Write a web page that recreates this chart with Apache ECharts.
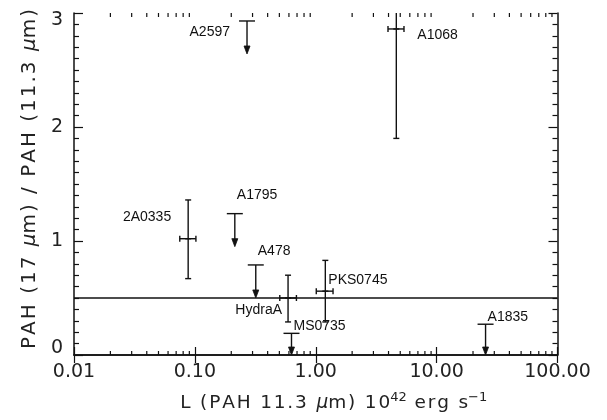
<!DOCTYPE html>
<html><head><meta charset="utf-8">
<script src="https://cdn.jsdelivr.net/npm/echarts@6/dist/echarts.min.js"></script>
<style>html,body{margin:0;padding:0;background:#fff}#c{width:607px;height:420px}</style>
</head><body><div id="c"></div>
<script>
// ---- data ----
const detNames   = ['A1068', '2A0335', 'HydraA', 'PKS0745'];
const detL       = [4.64, 0.088, 0.59, 1.20];
const detLlo     = [3.96, 0.075, 0.504, 1.01];
const detLhi     = [5.37, 0.102, 0.692, 1.39];
const detRatio   = [2.86, 1.02, 0.50, 0.56];
const detRatioLo = [1.90, 0.67, 0.29, 0.29];
const detRatioHi = [3.82, 1.36, 0.70, 0.83];

const limNames = ['A2597', 'A1795', 'A478', 'MS0735', 'A1835'];
const limL     = [0.27, 0.214, 0.319, 0.63, 25.4];
const limRatio = [2.93, 1.24, 0.79, 0.19, 0.27];

const meanRatio = 0.5;
const xTickValues = [0.01, 0.1, 1, 10, 100];
const yTickValues = [0, 1, 2, 3];

// ---- layout (label offsets in px, relative to the point) ----
const labelLayout = {
  'A1068':  {dx: 21, dy: 6,  align: 'left'},
  '2A0335': {dx: -17, dy: -22, align: 'right'},
  'HydraA': {dx: -6, dy: 12, align: 'right'},
  'PKS0745':{dx: 3, dy: -11, align: 'left'},
  'A2597':  {dx: -17, dy: 11, align: 'right'},
  'A1795':  {dx: 2, dy: -18, align: 'left'},
  'A478':   {dx: 2, dy: -14, align: 'left'},
  'MS0735': {dx: 2, dy: -7, align: 'left'},
  'A1835':  {dx: 2, dy: -7, align: 'left'}
};

// minor tick positions for log axis (2..9 x 10^k)
const minorLog = [];
for (let k = -2; k < 2; k++) for (let m = 2; m <= 9; m++) minorLog.push([m * Math.pow(10, k), 0]);

const INK = '#111';
const LW = 1.4;
const lblFont = '14px "Liberation Sans", Arial, sans-serif';
const axisFont = '"DejaVu Sans", sans-serif';
// wide tracking like the original plotting font (hair spaces between letters)
const tr = s => s.split('').join('\u200A');

function ln(x1, y1, x2, y2) {
  return {type: 'line', shape: {x1, y1, x2, y2}, style: {stroke: INK, lineWidth: LW}};
}
function label(name, x, y) {
  const l = labelLayout[name];
  return {type: 'text', x: x + l.dx, y: y + l.dy,
    style: {text: name, font: lblFont, fill: INK, align: l.align, verticalAlign: 'middle'}};
}

const chart = echarts.init(document.getElementById('c'), null, {renderer: 'canvas'});

const baseX = {
  type: 'log', logBase: 10, min: 0.01, max: 100,
  axisLine: {lineStyle: {color: INK, width: 1.5}},
  axisTick: {inside: true, length: 8, lineStyle: {color: INK, width: 1.2}},
  splitLine: {show: false}, minorTick: {show: false}
};
const baseY = {
  type: 'value', min: 0, max: 3, interval: 1,
  axisLine: {show: true, lineStyle: {color: INK, width: 1.5}},
  axisTick: {show: true, inside: true, length: 9, lineStyle: {color: INK, width: 1.2}},
  minorTick: {show: true, splitNumber: 10, length: 5, lineStyle: {color: INK, width: 1.2}},
  splitLine: {show: false}
};

const xName = '{t|' + tr('L (PAH 11.3 ') + '}{mu|\u200Aμ}{t|' + tr('m) 10') + '}{sup|42}{t|' + tr(' erg s') + '}{sup|−1}';
const yName = '{t|' + tr('PAH (17 ') + '}{mu|\u200Aμ}{t|' + tr('m) / PAH (11.3 ') + '}{mu|\u200Aμ}{t|' + tr('m)') + '}';

chart.setOption({
  animation: false,
  backgroundColor: '#fff',
  grid: {left: 74, right: 49.5, top: 13, bottom: 65, containLabel: false, outerBoundsMode: 'none'},
  xAxis: [
    Object.assign({}, baseX, {
      position: 'bottom',
      axisLabel: {formatter: v => (xTickValues.indexOf(v) >= 0 ? v.toFixed(2) : ''),
        fontFamily: axisFont, fontSize: 19, color: '#222', margin: 8},
      name: xName,
      nameLocation: 'middle', nameGap: 36,
      nameTextStyle: {
        padding: [0, 0, 0, 36],
        rich: {
          t: {fontFamily: axisFont, fontSize: 18.5, color: '#222', lineHeight: 22, verticalAlign: 'bottom'},
          mu: {fontFamily: axisFont, fontSize: 18.5, color: '#222', fontStyle: 'italic', lineHeight: 22, verticalAlign: 'bottom'},
          sup: {fontFamily: axisFont, fontSize: 13, color: '#222', lineHeight: 22, verticalAlign: 'top'}
        }
      }
    }),
    Object.assign({}, baseX, {position: 'top', axisLabel: {show: false}})
  ],
  yAxis: [
    Object.assign({}, baseY, {
      position: 'left',
      axisLabel: {
        formatter: v => v === 3 ? '{hi|3}' : v === 0 ? '{lo|0}' : (yTickValues.indexOf(v) >= 0 ? String(v) : ''),
        fontFamily: axisFont, fontSize: 19, color: '#222', margin: 11,
        rich: {
          hi: {fontFamily: axisFont, fontSize: 19, color: '#222', padding: [14, 0, 0, 0]},
          lo: {fontFamily: axisFont, fontSize: 19, color: '#222', padding: [0, 0, 14, 0]}
        }
      },
      name: yName,
      nameLocation: 'middle', nameGap: 34, nameRotate: 90,
      nameTextStyle: {
        padding: [0, 0, 0, 10],
        rich: {
          t: {fontFamily: axisFont, fontSize: 20, color: '#222'},
          mu: {fontFamily: axisFont, fontSize: 20, color: '#222', fontStyle: 'italic'}
        }
      }
    }),
    Object.assign({}, baseY, {position: 'right', axisLabel: {show: false}})
  ],
  series: [
    {
      type: 'custom', name: 'detections', clip: true,
      data: detNames.map((n, i) => [detL[i], detRatio[i], detLlo[i], detLhi[i], detRatioLo[i], detRatioHi[i]]),
      renderItem: function (params, api) {
        const i = params.dataIndex;
        const p = api.coord([api.value(0), api.value(1)]);
        const xlo = api.coord([api.value(2), api.value(1)])[0];
        const xhi = api.coord([api.value(3), api.value(1)])[0];
        const ylo = api.coord([api.value(0), api.value(4)])[1];
        const yhi = api.coord([api.value(0), api.value(5)])[1];
        const c = 3;
        return {type: 'group', children: [
          ln(p[0], yhi, p[0], ylo),
          ln(p[0] - c, yhi, p[0] + c, yhi),
          ln(p[0] - c, ylo, p[0] + c, ylo),
          ln(xlo, p[1], xhi, p[1]),
          ln(xlo, p[1] - c, xlo, p[1] + c),
          ln(xhi, p[1] - c, xhi, p[1] + c),
          ln(p[0] - 3, p[1], p[0] + 3, p[1]),
          label(detNames[i], p[0], p[1])
        ]};
      },
      markLine: {
        silent: true, symbol: ['none', 'none'], label: {show: false},
        lineStyle: {color: INK, width: 1.5, type: 'solid'},
        data: [{yAxis: meanRatio}]
      },
      z: 5
    },
    {
      type: 'custom', name: 'limits', clip: true,
      data: limNames.map((n, i) => [limL[i], limRatio[i]]),
      renderItem: function (params, api) {
        const i = params.dataIndex;
        const p = api.coord([api.value(0), api.value(1)]);
        const bottom = params.coordSys.y + params.coordSys.height;
        const tip = Math.min(p[1] + 33, bottom);
        return {type: 'group', children: [
          ln(p[0] - 8, p[1], p[0] + 8, p[1]),
          ln(p[0], p[1], p[0], tip - 2),
          {type: 'polygon', shape: {points: [[p[0] - 3, tip - 8], [p[0] + 3, tip - 8], [p[0], tip]]},
            style: {fill: INK, stroke: INK, lineWidth: 0.8}},
          label(limNames[i], p[0], p[1])
        ]};
      },
      z: 5
    },
    {
      type: 'custom', name: 'logMinorTicks', silent: true, clip: false,
      data: minorLog,
      renderItem: function (params, api) {
        const x = api.coord([api.value(0), 0])[0];
        const top = params.coordSys.y;
        const bottom = top + params.coordSys.height;
        return {type: 'group', children: [
          {type: 'line', shape: {x1: x, y1: bottom, x2: x, y2: bottom - 4}, style: {stroke: INK, lineWidth: 1.2}},
          {type: 'line', shape: {x1: x, y1: top, x2: x, y2: top + 4}, style: {stroke: INK, lineWidth: 1.2}}
        ]};
      },
      z: 4
    }
  ]
});
</script></body></html>
